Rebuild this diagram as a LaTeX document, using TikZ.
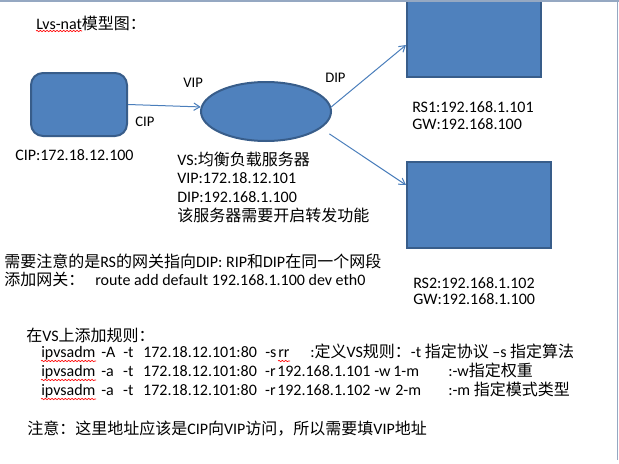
\documentclass[tikz,border=0pt]{standalone}
\usepackage{fontspec}
\setmainfont{Carlito}
\newfontfamily\cjkfont{Noto Sans CJK SC}
\definecolor{boxblue}{HTML}{4F81BD}
\definecolor{boxedge}{HTML}{385D8A}
\definecolor{linkblue}{HTML}{4A7EBB}
\definecolor{framegray}{HTML}{95A8C2}
\usetikzlibrary{arrows.meta, shapes.geometric, decorations.pathmorphing}
\newlength\pxu \setlength\pxu{0.75pt}
\newcommand\zh[1]{{\cjkfont #1}}
\newcommand\fld[2]{\makebox[#1\pxu][l]{#2}}

\begin{document}
\begin{tikzpicture}[x=0.75pt, y=-0.75pt,
   txt/.style={anchor=base west, inner sep=0pt, font=\fontsize{12pt}{14pt}\selectfont},
   lbl/.style={txt, font=\fontsize{11pt}{13pt}\selectfont},
   block/.style={fill=boxblue, draw=boxedge, line width=1.5pt, inner sep=0pt},
   link/.style={draw=linkblue, line width=0.75pt, -{Straight Barb[length=4.5pt, width=5.5pt]}},
   spell/.style={draw=red, line width=0.5pt, decorate,
      decoration={snake, amplitude=0.5pt, segment length=2.5pt}}]
   \useasboundingbox (0,0) rectangle (619,464);
   \clip (0,0) rectangle (619,464);
   % Shapes
   \node[block, rounded corners=9pt, minimum width=72pt, minimum height=47.25pt]
      (client) at (79,104.5) {};
   \node[block, ellipse, minimum width=97.5pt, minimum height=44.25pt] (vs) at (266,111.5) {};
   \node[block, minimum width=100.5pt, minimum height=60pt] (rs1) at (474,37) {};
   \node[block, minimum width=108pt, minimum height=64.5pt] (rs2) at (479,205) {};
   % Page frame
   \draw[framegray, line width=1.5pt] (0,1) -- (619,1);
   \draw[framegray, line width=0.75pt] (617.5,0) -- (617.5,460);
   % Connectors
   \draw[link] (client.east) -- (vs.176);
   \draw[link] (vs.4) -- ([yshift=-6pt]rs1.west);
   \draw[link, shorten <=7.5pt] (vs.-17) -- ([yshift=15pt]rs2.west);
   % Labels
   \node[txt] (title) at (36,29) {Lvs-nat\zh{模型图：}};
   \node[lbl] (viplbl) at (183,87) {VIP};
   \node[lbl] (ciplbl) at (135,126) {CIP};
   \node[lbl] (diplbl) at (325,82) {DIP};
   \node[txt] (rsone) at (412,112) {RS1:192.168.1.101};
   \node[txt] (rsonegw) at (412,129) {GW:192.168.100};
   \node[txt] (rstwo) at (413,288) {RS2:192.168.1.102};
   \node[txt] (rstwogw) at (413,304) {GW:192.168.1.100};
   \node[txt] (cipaddr) at (15,160) {CIP:172.18.12.100};
   \node[txt] (vsname) at (177,165) {VS:\zh{均衡负载服务器}};
   \node[txt] (vsvip) at (177,183) {VIP:172.18.12.101};
   \node[txt] (vsdip) at (177,202) {DIP:192.168.1.100};
   \node[txt] (vsfwd) at (177,221) {\zh{该服务器需要开启转发功能}};
   % Notes
   \node[txt] (gwnote) at (4,267)
      {\zh{需要注意的是}RS\zh{的网关指向}DIP: RIP\zh{和}DIP\zh{在同一个网段}};
   \node[txt] (gwadd) at (4,285) {\zh{添加网关：}};
   \node[txt] (gwcmd) at (95,285) {route add default 192.168.1.100 dev eth0};
   \node[txt] (rulehead) at (26,341) {\zh{在}VS\zh{上添加规则：}};
   \node[txt] (ruleone) at (41,357) {\fld{60}{ipvsadm}\fld{22}{-A}\fld{20}{-t}%
      \fld{122}{172.18.12.101:80}\fld{13}{-s}\fld{32}{rr}%
      :\zh{定义}VS\zh{规则：}-t \zh{指定协议} –s \zh{指定算法}};
   \node[txt] (ruletwo) at (41,376) {\fld{60}{ipvsadm}\fld{22}{-a}\fld{20}{-t}%
      \fld{122}{172.18.12.101:80}\fld{12}{-r}\fld{97}{192.168.1.101}\fld{19}{-w}%
      \fld{55}{1-m}:-w\zh{指定权重}};
   \node[txt] (rulethree) at (41,395) {\fld{60}{ipvsadm}\fld{22}{-a}\fld{20}{-t}%
      \fld{122}{172.18.12.101:80}\fld{12}{-r}\fld{97}{192.168.1.102}\fld{21}{-w}%
      \fld{53}{2-m}:-m \zh{指定模式类型}};
   \node[txt] (vipnote) at (27,434)
      {\zh{注意：这里地址应该是}CIP\zh{向}VIP\zh{访问，所以需要填}VIP\zh{地址}};
   % Spelling marks
   \draw[spell] (36,31) -- (82,31);
   \draw[spell] (41,361) -- (96,361);
   \draw[spell] (278,361) -- (290,361);
   \draw[spell] (41,380) -- (96,380);
   \draw[spell] (41,399) -- (96,399);
\end{tikzpicture}
\end{document}
